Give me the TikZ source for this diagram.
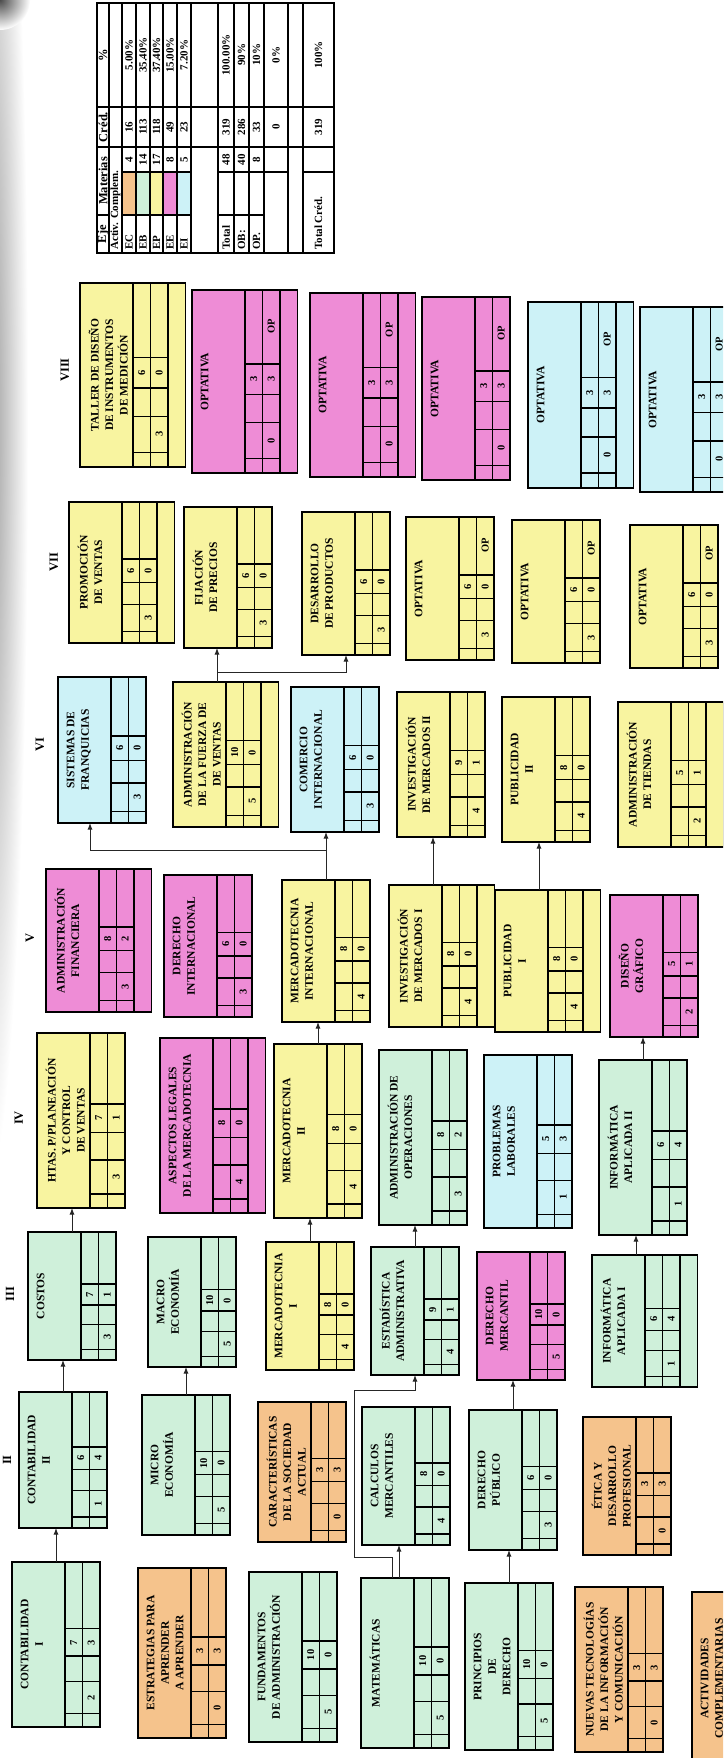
\documentclass[tikz,border=0pt]{standalone}
\usepackage{fontspec}
\setmainfont{Liberation Serif}
\usetikzlibrary{arrows.meta,calc}
\definecolor{cEB}{HTML}{CFF0DA}
\definecolor{cEP}{HTML}{F8F4A0}
\definecolor{cEE}{HTML}{EE8CD6}
\definecolor{cEI}{HTML}{CDF2F7}
\definecolor{cEC}{HTML}{F5C38C}
\tikzset{
  boxst/.style={draw=black, line width=1.8pt, rectangle, inner sep=0pt, outer sep=0pt},
  inl/.style={line width=1.3pt},
  ttl/.style={rotate=90, font=\fontsize{11.5}{14.5}\selectfont\bfseries, align=center, inner sep=0pt},
  num/.style={rotate=90, font=\fontsize{10.5}{12}\selectfont\bfseries, inner sep=0pt},
  arr/.style={draw=black!85, line width=1pt, -{Latex[length=6.5pt,width=5pt]}},
  semlab/.style={rotate=90, font=\fontsize{12.5}{14}\selectfont\bfseries, inner sep=0pt},
  tt/.style={rotate=90, font=\fontsize{11}{12}\selectfont\bfseries, inner sep=0pt},
  tth/.style={rotate=90, font=\fontsize{12.5}{13}\selectfont\bfseries, inner sep=0pt},
  tline/.style={line width=1.4pt}
}
\newcommand\subj[9]{%
  \def\sName{#1}\def\sX{#2}\def\sYa{#3}\def\sYb{#4}\def\sN{#5}%
  \def\sCol{#6}\def\sTitle{#7}\def\sCred{#8}\def\sHT{#9}%
  \subjrest}
\newcommand\subjrest[2]{%
  \pgfmathsetmacro\sW{53+17.5*\sN}%
  \pgfmathsetmacro\sL{\sYb-\sYa}%
  \pgfmathsetmacro\sCx{\sX+\sW/2}%
  \pgfmathsetmacro\sCy{(\sYa+\sYb)/2}%
  \pgfmathsetmacro\xsA{\sX+53}%
  \pgfmathsetmacro\xsB{\sX+70.5}%
  \pgfmathsetmacro\xsC{\sX+88}%
  \pgfmathsetmacro\xnA{\sX+61.75}%
  \pgfmathsetmacro\xnB{\sX+79.25}%
  \pgfmathsetmacro\yA{\sYb-0.08*\sL}%
  \pgfmathsetmacro\yB{\sYb-0.275*\sL}%
  \pgfmathsetmacro\yC{\sYb-0.43*\sL}%
  \pgfmathsetmacro\yD{\sYb-0.595*\sL}%
  \pgfmathsetmacro\yNc{\sYb-0.5125*\sL}%
  \pgfmathsetmacro\yNa{\sYb-0.1775*\sL}%
  \pgfmathsetmacro\yOp{\sYa+0.2*\sL}%
  \node[boxst, fill=\sCol, minimum width=\sW pt, minimum height=\sL pt] (\sName) at (\sCx,\sCy) {};
  \draw[inl] (\xsA,\sYa) -- (\xsA,\sYb) (\xsB,\sYa) -- (\xsB,\sYb);
  \ifnum\sN>2 \draw[inl] (\xsC,\sYa) -- (\xsC,\sYb);\fi
  \draw[inl] (\xsA,\yA) -- (\xsC,\yA) (\xsA,\yB) -- (\xsC,\yB) (\xsA,\yC) -- (\xsC,\yC) (\xsA,\yD) -- (\xsC,\yD);
  \node[ttl, anchor=north] at (\sX+8.5,\sCy) {\sTitle};
  \node[num] at (\xnA,\yNc) {\sCred};
  \node[num] at (\xnB,\yNc) {#1};
  \node[num] at (\xnB,\yNa) {\sHT};
  \node[num] at (\xnB,\yOp) {#2};
  \coordinate (\sName-t) at (\sX+44,\sYa);
  \coordinate (\sName-b) at (\sX+44,\sYb);
}
\begin{document}
\begin{tikzpicture}[x=1pt,y=-1pt]
\useasboundingbox (0,0) rectangle (723,1758);
\clip (0,0) rectangle (723,1758);
\fill[white] (0,0) rectangle (723,1758);
\shade[inner color=black!40, outer color=white] (-12,420) ellipse [x radius=40, y radius=760];
\shade[inner color=black!70, outer color=white] (0,0) circle [radius=30];

% semester labels
\node[semlab] (sVIII) at (65,370) {VIII};
\node[semlab] (sVII) at (54,562) {VII};
\node[semlab] (sVI) at (40,745) {VI};
\node[semlab] (sV) at (30,938) {V};
\node[semlab] (sIV) at (19,1118) {IV};
\node[semlab] (sIII) at (10,1294) {III};
\node[semlab] (sII) at (7,1460) {II};

% Semester I
\subj{contI}{12}{1562}{1727}{2}{cEB}{CONTABILIDAD\\I}{7}{2}{3}{}
\subj{estr}{138}{1568}{1738}{2}{cEC}{ESTRATEGIAS PARA\\APRENDER\\A APRENDER}{3}{0}{3}{}
\subj{fund}{249}{1572}{1742}{2}{cEB}{FUNDAMENTOS\\DE ADMINISTRACIÓN}{10}{5}{0}{}
\subj{mate}{361}{1578}{1748}{2}{cEB}{MATEMÁTICAS}{10}{5}{0}{}
\subj{prin}{465}{1583}{1750}{2}{cEB}{PRINCIPIOS\\DE\\DERECHO}{10}{5}{0}{}
\subj{nuev}{575}{1587}{1752}{2}{cEC}{NUEVAS TECNOLOGÍAS\\DE LA INFORMACIÓN\\Y COMUNICACIÓN}{3}{0}{3}{}
\subj{acti}{692}{1592}{1765}{2}{cEC}{ACTIVIDADES\\COMPLEMENTARIAS}{}{}{}{}
% Semester II
\subj{contII}{19}{1392}{1528}{2}{cEB}{CONTABILIDAD\\II}{6}{1}{4}{}
\subj{micro}{142}{1395}{1535}{2}{cEB}{MICRO\\ECONOMÍA}{10}{5}{0}{}
\subj{cara}{258}{1402}{1542}{2}{cEC}{CARACTERÍSTICAS\\DE LA SOCIEDAD\\ACTUAL}{3}{0}{3}{}
\subj{calc}{362}{1407}{1545}{2}{cEB}{CALCULOS\\MERCANTILES}{8}{4}{0}{}
\subj{dpub}{469}{1410}{1550}{2}{cEB}{DERECHO\\PÚBLICO}{6}{3}{0}{}
\subj{etica}{583}{1417}{1555}{2}{cEC}{ÉTICA Y\\DESARROLLO\\PROFESIONAL}{3}{0}{3}{}
% Semester III
\subj{costos}{28}{1232}{1360}{2}{cEB}{COSTOS}{7}{3}{1}{}
\subj{macro}{148}{1237}{1367}{2}{cEB}{MACRO\\ECONOMÍA}{10}{5}{0}{}
\subj{merc1}{266}{1242}{1370}{2}{cEP}{MERCADOTECNIA\\I}{8}{4}{0}{}
\subj{estad}{371}{1247}{1375}{2}{cEB}{ESTADÍSTICA\\ADMINISTRATIVA}{9}{4}{1}{}
\subj{dmerc}{477}{1252}{1380}{2}{cEE}{DERECHO\\MERCANTIL}{10}{5}{0}{}
\subj{inf1}{592}{1255}{1387}{3}{cEB}{INFORMÁTICA\\APLICADA I}{6}{1}{4}{}
% Semester IV
\subj{htas}{37}{1033}{1208}{2}{cEP}{HTAS. P/PLANEACIÓN\\Y CONTROL\\DE VENTAS}{7}{3}{1}{}
\subj{aspec}{160}{1038}{1213}{3}{cEE}{ASPECTOS LEGALES\\DE LA MERCADOTECNIA}{8}{4}{0}{}
\subj{merc2}{274}{1044}{1218}{2}{cEP}{MERCADOTECNIA\\II}{8}{4}{0}{}
\subj{admop}{379}{1050}{1225}{2}{cEB}{ADMINISTRACIÓN DE\\OPERACIONES}{8}{3}{2}{}
\subj{probl}{484}{1055}{1228}{2}{cEI}{PROBLEMAS\\LABORALES}{5}{1}{3}{}
\subj{inf2}{599}{1060}{1235}{2}{cEB}{INFORMÁTICA\\APLICADA II}{6}{1}{4}{}
% Semester V
\subj{afin}{46}{869}{1012}{3}{cEE}{ADMINISTRACIÓN\\FINANCIERA}{8}{3}{2}{}
\subj{dint}{164}{875}{1017}{2}{cEE}{DERECHO\\INTERNACIONAL}{6}{3}{0}{}
\subj{mint}{282}{880}{1022}{2}{cEP}{MERCADOTECNIA\\INTERNACIONAL}{8}{4}{0}{}
\subj{inv1}{389}{885}{1027}{3}{cEP}{INVESTIGACIÓN\\DE MERCADOS I}{8}{4}{0}{}
\subj{pub1}{495}{890}{1032}{3}{cEP}{PUBLICIDAD\\I}{8}{4}{0}{}
\subj{dise}{610}{895}{1037}{2}{cEE}{DISEÑO\\GRÁFICO}{5}{2}{1}{}
% Semester VI
\subj{sist}{58}{677}{823}{2}{cEI}{SISTEMAS DE\\FRANQUICIAS}{6}{3}{0}{}
\subj{fuer}{173}{682}{827}{3}{cEP}{ADMINISTRACIÓN\\DE LA FUERZA DE\\DE VENTAS}{10}{5}{0}{}
\subj{come}{291}{687}{832}{2}{cEI}{COMERCIO\\INTERNACIONAL}{6}{3}{0}{}
\subj{inv2}{397}{692}{837}{2}{cEP}{INVESTIGACIÓN\\DE MERCADOS II}{9}{4}{1}{}
\subj{pub2}{502}{697}{842}{2}{cEP}{PUBLICIDAD\\II}{8}{4}{0}{}
\subj{tiend}{618}{702}{847}{3}{cEP}{ADMINISTRACIÓN\\DE TIENDAS}{5}{2}{1}{}
% Semester VII
\subj{prom}{69}{502}{643}{3}{cEP}{PROMOCIÓN\\DE VENTAS}{6}{3}{0}{}
\subj{fija}{184}{507}{648}{2}{cEP}{FIJACIÓN\\DE PRECIOS}{6}{3}{0}{}
\subj{desa}{302}{512}{655}{2}{cEP}{DESARROLLO\\DE PRODUCTOS}{6}{3}{0}{}
\subj{optA}{406}{517}{660}{2}{cEP}{OPTATIVA}{6}{3}{0}{OP}
\subj{optB}{512}{520}{663}{2}{cEP}{OPTATIVA}{6}{3}{0}{OP}
\subj{optC}{630}{525}{668}{2}{cEP}{OPTATIVA}{6}{3}{0}{OP}
% Semester VIII
\subj{tall}{80}{283}{467}{3}{cEP}{TALLER DE DISEÑO\\DE INSTRUMENTOS\\DE MEDICIÓN}{6}{3}{0}{}
\subj{optD}{192}{290}{473}{3}{cEE}{OPTATIVA}{3}{0}{3}{OP}
\subj{optE}{310}{293}{477}{3}{cEE}{OPTATIVA}{3}{0}{3}{OP}
\subj{optF}{422}{297}{480}{2}{cEE}{OPTATIVA}{3}{0}{3}{OP}
\subj{optG}{528}{302}{488}{3}{cEI}{OPTATIVA}{3}{0}{3}{OP}
\subj{optH}{640}{307}{492}{3}{cEI}{OPTATIVA}{3}{0}{3}{OP}

% connectors
\draw[arr] (contI-t) -- (contI-t |- contII-b);
\draw[arr] (contII-t) -- (contII-t |- costos-b);
\draw[arr] (costos-t) -- (costos-t |- htas-b);
\draw[arr] (micro-t) -- (micro-t |- macro-b);
\draw[arr] (merc1-t) -- (merc1-t |- merc2-b);
\draw[arr] (merc2-t) -- (merc2-t |- mint-b);
\draw[arr] (mint-t) -- (mint-t |- come-b);
\coordinate (j1) at ($(mint-t)+(0,-30)$);
\draw[arr] (j1) -| ([xshift=-12pt]sist-b);
\draw[arr] (estad-t) -- (estad-t |- admop-b);
\draw[arr] (dpub-t) -- (dpub-t |- dmerc-b);
\draw[arr] (prin-t) -- (prin-t |- dpub-b);
\draw[arr] (inf1-t) -- (inf1-t |- inf2-b);
\draw[arr] (inf2-t) -- (inf2-t |- dise-b);
\draw[arr] (inv1-t) -- (inv1-t |- inv2-b);
\draw[arr] (pub1-t) -- (pub1-t |- pub2-b);
\draw[arr] (fuer-t) -- (fuer-t |- fija-b);
\coordinate (j2) at ($(fuer-t)+(0,-10)$);
\draw[arr] (j2) -| (desa-b);
\coordinate (m1) at ($(mate-t)+(-13,0)$);
\coordinate (m2) at ($(mate-t)+(-6,0)$);
\draw[arr] (m2) -- (m2 |- calc-b);
\draw[arr] (m1) -- ++(0,-21) -- ++(-38,0) |- ($(estad-b)+(0,15)$) -- (estad-b);

% summary table
\fill[cEC] (122,172) rectangle (136,215);
\fill[cEB] (136,172) rectangle (150,215);
\fill[cEP] (150,172) rectangle (163,215);
\fill[cEE] (163,172) rectangle (177,215);
\fill[cEI] (177,172) rectangle (191,215);
\node[draw, line width=1.9pt, minimum width=237pt, minimum height=250pt, inner sep=0pt] (tbl) at (215.5,128) {};
\foreach \r in {109,122,136,150,163,177,191,218,234,249,264,288,303} \draw[tline] (\r,3) -- (\r,253);
\draw[tline] (97,107) -- (334,107);
\draw[tline] (97,147) -- (334,147);
\draw[tline] (122,172) -- (191,172) (218,172) -- (288,172) (303,172) -- (334,172);
\draw[tline] (97,215) -- (109,215) (122,215) -- (191,215) (218,215) -- (264,215);

\node[tth] (hEje) at (103,234) {Eje};
\node[tth] (hMat) at (103,181) {Materias};
\node[tth] (hCred) at (103,127) {Créd.};
\node[tth] (hPct) at (103,55) {\%};
\node[tt, anchor=west] (tAct) at (115.5,250) {Activ. Complem.};
\node[tt, anchor=west] (tEC) at (129,250) {EC};
\node[tt, anchor=west] (tEB) at (143,250) {EB};
\node[tt, anchor=west] (tEP) at (156.5,250) {EP};
\node[tt, anchor=west] (tEE) at (170,250) {EE};
\node[tt, anchor=west] (tEI) at (184,250) {EI};
\node[tt] at (129,159.5) {4};
\node[tt] at (143,159.5) {14};
\node[tt] at (156.5,159.5) {17};
\node[tt] at (170,159.5) {8};
\node[tt] at (184,159.5) {5};
\node[tt] at (129,127) {16};
\node[tt] at (143,127) {113};
\node[tt] at (156.5,127) {118};
\node[tt] at (170,127) {49};
\node[tt] at (184,127) {23};
\node[tt] at (129,55) {5.00\%};
\node[tt] at (143,55) {35.40\%};
\node[tt] at (156.5,55) {37.40\%};
\node[tt] at (170,55) {15.00\%};
\node[tt] at (184,55) {7.20\%};
\node[tt, anchor=west] (tTot) at (226,250) {Total};
\node[tt] at (226,159.5) {48};
\node[tt] at (226,127) {319};
\node[tt] at (226,55) {100.00\%};
\node[tt, anchor=west] (tOB) at (241.5,250) {OB:};
\node[tt] at (241.5,159.5) {40};
\node[tt] at (241.5,127) {286};
\node[tt] at (241.5,55) {90\%};
\node[tt, anchor=west] (tOP) at (256.5,250) {OP.};
\node[tt] at (256.5,159.5) {8};
\node[tt] at (256.5,127) {33};
\node[tt] at (256.5,55) {10\%};
\node[tt] at (276,127) {0};
\node[tt] at (276,55) {0\%};
\node[tt, anchor=west] (tTC) at (318.5,250) {Total Créd.};
\node[tt] at (318.5,127) {319};
\node[tt] at (318.5,55) {100\%};
\end{tikzpicture}
\end{document}
